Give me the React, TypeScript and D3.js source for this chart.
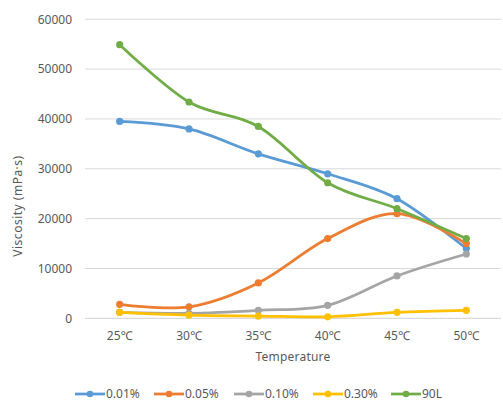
import React from "react";
import * as d3 from "d3";

// Temperature categories and viscosity (mPa·s) per concentration
const categories = ["25℃", "30℃", "35℃", "40℃", "45℃", "50℃"];
const yTicks = [0, 10000, 20000, 30000, 40000, 50000, 60000];

const s001 = [39500, 38000, 33000, 29000, 24000, 14000];
const s005 = [2800, 2300, 7100, 16000, 21000, 15000];
const s010 = [1200, 1000, 1600, 2600, 8500, 12900];
const s030 = [1200, 650, 450, 300, 1200, 1600];
const s90L = [54900, 43400, 38500, 27200, 22000, 16000];

const seriesNames = ["0.01%", "0.05%", "0.10%", "0.30%", "90L"];
const seriesValues = [s001, s005, s010, s030, s90L];
const seriesColors = ["#5B9BD5", "#ED7D31", "#A5A5A5", "#FFC000", "#70AD47"];

const W = 503;
const H = 401;
const margin = { left: 85, right: 2, top: 19.3, bottom: 82.7 };
const FONT = "'Noto Sans', 'Open Sans', sans-serif";
const TEXT = "#595959";

export default function App() {
  const x = d3
    .scaleBand<string>()
    .domain(categories)
    .range([margin.left, W - margin.right]);
  const y = d3
    .scaleLinear()
    .domain([0, 60000])
    .range([H - margin.bottom, margin.top]);
  const cx = (c: string) => (x(c) ?? 0) + x.bandwidth() / 2;

  const line = d3
    .line<number>()
    .x((_, i) => cx(categories[i]))
    .y((v) => y(v))
    .curve(d3.curveCardinal.tension(0));

  const legendItems = [
    { lx: 75, tx: 106 },
    { lx: 154, tx: 185 },
    { lx: 234, tx: 265 },
    { lx: 313, tx: 344 },
    { lx: 391, tx: 422 },
  ];
  const legendY = 394;

  return (
    <div style={{ position: "fixed", left: 0, top: 0 }}>
      <svg width={W} height={H} style={{ display: "block", background: "#fff" }}>
        {/* gridlines */}
        {yTicks.map((t) => (
          <line
            key={t}
            x1={margin.left}
            x2={W - margin.right}
            y1={y(t)}
            y2={y(t)}
            stroke={t === 0 ? "#d0d0d0" : "#d9d9d9"}
            strokeWidth={1}
          />
        ))}
        {/* y tick labels */}
        {yTicks.map((t) => (
          <text
            key={"yl" + t}
            x={72}
            y={y(t)}
            dy="0.35em"
            textAnchor="end"
            fontFamily={FONT}
            fontSize={12}
            fill={TEXT}
          >
            {t}
          </text>
        ))}
        {/* x tick labels */}
        {categories.map((c) => (
          <text
            key={c}
            x={cx(c)}
            y={336}
            dy="0.35em"
            textAnchor="middle"
            fontFamily={FONT}
            fontSize={12}
            fill={TEXT}
          >
            {c}
          </text>
        ))}
        {/* axis titles */}
        <text
          x={(margin.left + W - margin.right) / 2}
          y={357}
          dy="0.35em"
          textAnchor="middle"
          fontFamily={FONT}
          fontSize={12}
          letterSpacing={0.2}
          fill={TEXT}
        >
          Temperature
        </text>
        <text
          transform={`translate(18,206) rotate(-90)`}
          textAnchor="middle"
          dy="0.35em"
          fontFamily={FONT}
          fontSize={12}
          letterSpacing={0.5}
          fill={TEXT}
        >
          Viscosity (mPa·s)
        </text>
        {/* series */}
        {seriesValues.map((vals, si) => (
          <g key={seriesNames[si]}>
            <path
              d={line(vals) ?? ""}
              fill="none"
              stroke={seriesColors[si]}
              strokeWidth={2.75}
              strokeLinecap="round"
              strokeLinejoin="round"
            />
            {vals.map((v, i) => (
              <circle
                key={i}
                cx={cx(categories[i])}
                cy={y(v)}
                r={3.6}
                fill={seriesColors[si]}
              />
            ))}
          </g>
        ))}
        {/* legend */}
        {legendItems.map((it, si) => (
          <g key={"lg" + si}>
            <line
              x1={it.lx}
              x2={it.lx + 30}
              y1={legendY}
              y2={legendY}
              stroke={seriesColors[si]}
              strokeWidth={2.75}
            />
            <circle cx={it.lx + 15} cy={legendY} r={3.3} fill={seriesColors[si]} />
            <text
              x={it.tx}
              y={legendY}
              dy="0.35em"
              fontFamily={FONT}
              fontSize={12}
              fill={TEXT}
            >
              {seriesNames[si]}
            </text>
          </g>
        ))}
      </svg>
    </div>
  );
}
